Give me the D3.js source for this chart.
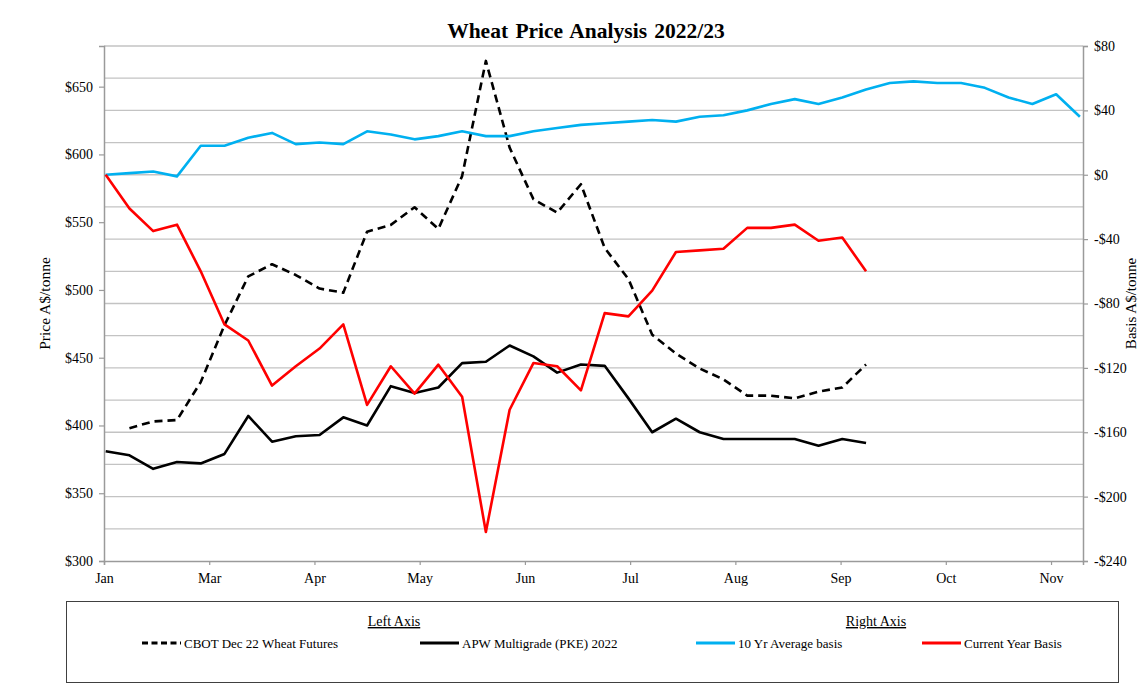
<!DOCTYPE html>
<html>
<head>
<meta charset="utf-8">
<script src="https://cdn.jsdelivr.net/npm/d3@7"></script>
<style>
  body { margin: 0; background: #fff; }
  text { font-family: "Liberation Serif", "Times New Roman", serif; fill: #000; }
</style>
</head>
<body>
<div id="chart"></div>
<script>
var svgWidth = 1141;
var svgHeight = 684;
// plot area in pixels
var margin = { top: 46, right: 58, bottom: 123, left: 104 };
var width = svgWidth - margin.left - margin.right;
var height = svgHeight - margin.top - margin.bottom;

// weekly dates (categories)
var weeks = ["2022-01-31", "2022-02-07", "2022-02-14", "2022-02-21", "2022-02-28",
  "2022-03-07", "2022-03-14", "2022-03-21", "2022-03-28", "2022-04-04", "2022-04-11",
  "2022-04-18", "2022-04-25", "2022-05-02", "2022-05-09", "2022-05-16", "2022-05-23",
  "2022-05-30", "2022-06-06", "2022-06-13", "2022-06-20", "2022-06-27", "2022-07-04",
  "2022-07-11", "2022-07-18", "2022-07-25", "2022-08-01", "2022-08-08", "2022-08-15",
  "2022-08-22", "2022-08-29", "2022-09-05", "2022-09-12", "2022-09-19", "2022-09-26",
  "2022-10-03", "2022-10-10", "2022-10-17", "2022-10-24", "2022-10-31", "2022-11-07",
  "2022-11-14"];

// left axis series (A$/tonne)
var cbot = [null, 398, 403, 404, 432, 474, 510, 519, 511, 501, 498, 543, 548, 561, 545,
  584, 669, 605, 567, 557, 578, 531, 508, 467, 453, 442, 434, 422, 422, 420, 425, 428, 445];
var apw = [381, 378, 368, 373, 372, 379, 407, 388, 392, 393, 406, 400, 429, 424, 428,
  446, 447, 459, 451, 439, 445, 444, 420, 395, 405, 395, 390, 390, 390, 390, 385, 390, 387];

// right axis series (basis A$/tonne)
var avgBasis = [0, 1, 2, -1, 18, 18, 23, 26, 19, 20, 19, 27, 25, 22, 24, 27, 24, 24, 27,
  29, 31, 32, 33, 34, 33, 36, 37, 40, 44, 47, 44, 48, 53, 57, 58, 57, 57, 54, 48, 44, 50, 36];
var curBasis = [0, -21, -35, -31, -60, -93, -103, -131, -119, -108, -93, -143, -119, -136,
  -118, -138, -222, -146, -117, -119, -134, -86, -88, -72, -48, -47, -46, -33, -33, -31,
  -41, -39, -60];

// axis ticks and labels
var monthLabels = ["Jan", "Mar", "Apr", "May", "Jun", "Jul", "Aug", "Sep", "Oct", "Nov"];
var leftTicks = [300, 350, 400, 450, 500, 550, 600, 650];
var rightTicks = [80, 40, 0, -40, -80, -120, -160, -200, -240];

var series = [
  { name: "CBOT Dec 22 Wheat Futures", values: cbot, axis: "left", color: "#000", dash: "8,5" },
  { name: "APW Multigrade (PKE) 2022", values: apw, axis: "left", color: "#000", dash: null },
  { name: "10 Yr Average basis", values: avgBasis, axis: "right", color: "#00B0F0", dash: null },
  { name: "Current Year Basis", values: curBasis, axis: "right", color: "#FF0000", dash: null }
];

var parseDay = d3.utcParse("%Y-%m-%d");
var dates = weeks.map(parseDay);

var svg = d3.select("#chart")
  .append("svg")
  .attr("width", svgWidth)
  .attr("height", svgHeight);

var chartGroup = svg.append("g")
  .attr("transform", `translate(${margin.left}, ${margin.top})`);

// date axis, major unit 31 days like the original
var axisStart = new Date(Date.UTC(2022, 0, 30, 12));
var axisEnd = new Date(Date.UTC(2022, 10, 14, 22));
var xScale = d3.scaleUtc().domain([axisStart, axisEnd]).range([0, width]);
var xTicks = monthLabels.map((m, i) => d3.utcDay.offset(axisStart, 31 * i));

var yLeft = d3.scaleLinear().domain([300, 680]).range([height, 0]);
var yRight = d3.scaleLinear().domain([-240, 80]).range([height, 0]);

// gridlines every $20 on the right axis
chartGroup.append("g")
  .selectAll("line")
  .data(d3.range(-220, 81, 20))
  .enter()
  .append("line")
  .attr("x1", 0)
  .attr("x2", width)
  .attr("y1", d => yRight(d))
  .attr("y2", d => yRight(d))
  .attr("stroke", "#c3c3c3")
  .attr("stroke-width", 1.3);

// axes
var axisColor = "#9a9a9a";
function styleAxis(g) {
  g.select(".domain").attr("stroke", axisColor).attr("stroke-width", 1.5);
  g.selectAll(".tick line").attr("stroke", axisColor).attr("stroke-width", 1.2);
  g.selectAll(".tick text")
    .style("font-family", '"Liberation Serif", "Times New Roman", serif')
    .style("font-size", "14px")
    .attr("fill", "#000");
}

chartGroup.append("g")
  .attr("transform", `translate(0, ${height})`)
  .call(d3.axisBottom(xScale).tickValues(xTicks)
    .tickFormat((d, i) => monthLabels[i]).tickSizeOuter(0).tickSize(4).tickPadding(8))
  .call(styleAxis);

chartGroup.append("g")
  .call(d3.axisLeft(yLeft).tickValues(leftTicks)
    .tickFormat(d => "$" + d).tickSizeOuter(0).tickSize(5).tickPadding(6))
  .call(styleAxis);

chartGroup.append("g")
  .attr("transform", `translate(${width}, 0)`)
  .call(d3.axisRight(yRight).tickValues(rightTicks)
    .tickFormat(d => (d < 0 ? "-$" + (-d) : "$" + d)).tickSizeOuter(0).tickSize(5).tickPadding(6))
  .call(styleAxis);

// lines
series.forEach(function (s) {
  var y = s.axis === "left" ? yLeft : yRight;
  var line = d3.line()
    .defined(d => d.v !== null)
    .x(d => xScale(d.date))
    .y(d => y(d.v));
  var pts = s.values.map((v, i) => ({ date: dates[i], v: v }));
  chartGroup.append("path")
    .datum(pts)
    .attr("d", line)
    .attr("fill", "none")
    .attr("stroke", s.color)
    .attr("stroke-width", 2.6)
    .attr("stroke-linejoin", "round")
    .attr("stroke-dasharray", s.dash);
});

// title
svg.append("text")
  .attr("x", 586)
  .attr("y", 38)
  .attr("text-anchor", "middle")
  .style("font-size", "21.5px")
  .style("font-weight", "bold")
  .style("word-spacing", "2px")
  .text("Wheat Price Analysis 2022/23");

// axis titles
svg.append("text")
  .attr("transform", `translate(50, ${margin.top + height / 2}) rotate(-90)`)
  .attr("text-anchor", "middle")
  .style("font-size", "15.5px")
  .text("Price A$/tonne");

svg.append("text")
  .attr("transform", `translate(1136, ${margin.top + height / 2}) rotate(-90)`)
  .attr("text-anchor", "middle")
  .style("font-size", "15px")
  .text("Basis A$/tonne");

// legend box
var legend = svg.append("g");
legend.append("rect")
  .attr("x", 66.5)
  .attr("y", 601.5)
  .attr("width", 1052)
  .attr("height", 81)
  .attr("fill", "#fff")
  .attr("stroke", "#404040")
  .attr("stroke-width", 1);

[["Left Axis", 394], ["Right Axis", 876]].forEach(function (h) {
  legend.append("text")
    .attr("x", h[1])
    .attr("y", 626)
    .attr("text-anchor", "middle")
    .style("font-size", "14px")
    .style("text-decoration", "underline")
    .text(h[0]);
});

var legendX = [142, 420, 696, 922];
series.forEach(function (s, i) {
  var item = legend.append("g").attr("transform", `translate(${legendX[i]}, 643)`);
  item.append("line")
    .attr("x1", 0).attr("x2", 39)
    .attr("y1", 0).attr("y2", 0)
    .attr("stroke", s.color)
    .attr("stroke-width", 3)
    .attr("stroke-dasharray", s.dash ? "6,3.5" : null);
  item.append("text")
    .attr("x", 42)
    .attr("y", 4.5)
    .style("font-size", "13px")
    .text(s.name);
});
</script>
</body>
</html>
